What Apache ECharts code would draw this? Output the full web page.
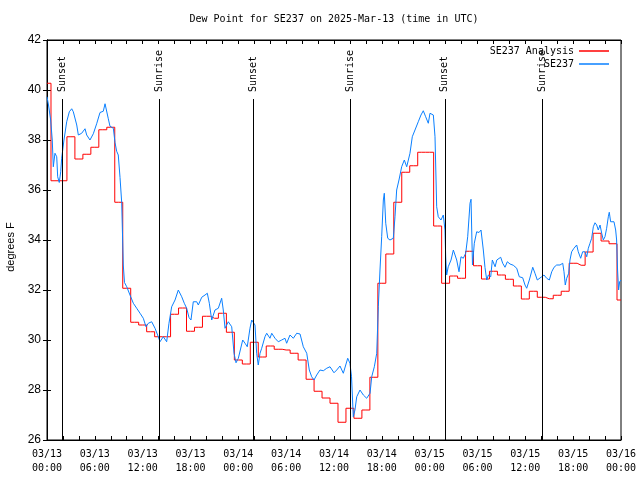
<!DOCTYPE html>
<html><head><meta charset="utf-8">
<script src="https://cdn.jsdelivr.net/npm/echarts@6/dist/echarts.min.js"></script>
<style>html,body{margin:0;padding:0;background:#fff}#c{width:640px;height:480px}</style>
</head><body><div id="c"></div>
<script>
const titleText = 'Dew Point for SE237 on 2025-Mar-13 (time in UTC)';
const yAxisTitle = 'degrees F';
const analysisName = 'SE237 Analysis';
const obsName = 'SE237';
// hourly analysis values, hour 0 .. 72 after 03/13 00:00 UTC
const analysisHourly = [40.27,36.37,36.37,38.13,37.24,37.43,37.71,38.41,38.51,35.51,32.07,30.71,30.6,30.33,30.13,30.13,31.03,31.28,30.35,30.51,30.95,30.87,31.07,30.31,29.2,29.04,29.91,29.32,29.76,29.63,29.6,29.47,29.2,28.43,27.95,27.68,27.47,26.71,27.27,26.87,27.2,28.51,32.27,33.44,35.51,36.71,36.97,37.51,37.51,34.56,32.27,32.56,32.47,33.55,32.97,32.44,32.75,32.6,32.43,32.16,31.64,31.95,31.71,31.65,31.79,31.95,33.07,32.99,33.52,34.27,33.96,33.85,31.6];
// observations: [hours after 03/13 00:00 UTC, degrees F]
const obsSeries = [[0,39.73],[0.19,39.4],[0.46,38.8],[0.66,38.0],[0.79,36.93],[1.0,37.47],[1.22,37.33],[1.34,36.53],[1.54,36.3],[1.72,36.73],[1.84,37.27],[2.13,38.0],[2.47,38.73],[2.8,39.13],[3.1,39.25],[3.3,39.13],[3.73,38.6],[3.93,38.2],[4.35,38.27],[4.55,38.2],[4.77,38.45],[4.98,38.2],[5.39,38.0],[5.81,38.25],[6.23,38.65],[6.65,39.1],[7.06,39.15],[7.28,39.45],[7.49,39.5],[7.69,38.85],[7.9,38.55],[8.32,38.47],[8.53,37.9],[8.74,37.55],[8.94,37.4],[9.16,36.5],[9.37,35.5],[9.57,33.0],[9.72,32.3],[10.0,32.13],[10.41,31.8],[10.83,31.47],[11.25,31.27],[11.67,31.07],[12.08,30.87],[12.42,30.53],[12.71,30.67],[13.13,30.73],[13.55,30.47],[13.96,30.13],[14.17,29.93],[14.59,30.13],[15.01,29.93],[15.3,30.67],[15.64,31.33],[16.06,31.6],[16.47,32.0],[16.9,31.73],[17.22,31.47],[17.52,31.27],[17.81,30.9],[18.06,30.8],[18.35,31.53],[18.78,31.53],[18.98,31.4],[19.41,31.71],[19.82,31.8],[20.11,31.87],[20.36,31.47],[20.66,30.8],[21.07,31.2],[21.49,31.27],[21.91,31.67],[22.11,31.2],[22.33,30.47],[22.74,30.73],[23.17,30.53],[23.46,29.47],[23.71,29.09],[24.0,29.27],[24.21,29.33],[24.55,30.0],[24.84,29.87],[25.12,29.73],[25.46,30.47],[25.68,30.8],[25.88,30.87],[26.09,30.6],[26.3,29.47],[26.5,29.0],[26.72,29.47],[26.93,29.67],[27.34,30.13],[27.56,30.27],[27.97,30.07],[28.19,30.27],[28.6,30.07],[29.01,29.93],[29.44,30.0],[29.85,30.07],[30.06,29.87],[30.48,30.2],[30.9,30.07],[31.32,30.27],[31.74,30.24],[32.15,29.73],[32.58,29.47],[32.9,28.8],[33.2,28.53],[33.49,28.4],[33.83,28.6],[34.24,28.8],[34.66,28.77],[35.09,28.87],[35.5,28.93],[35.71,29.0],[36.0,28.69],[36.34,28.8],[36.75,28.96],[37.17,28.67],[37.72,29.27],[38.0,29.07],[38.2,28.53],[38.42,26.93],[38.63,27.2],[38.85,27.73],[39.26,28.0],[39.68,27.8],[40.1,27.67],[40.52,27.87],[40.73,28.53],[41.06,28.93],[41.36,29.47],[41.56,31.33],[41.77,32.8],[41.98,34.13],[42.19,35.6],[42.31,35.87],[42.49,34.67],[42.74,34.07],[43.02,34.0],[43.44,34.07],[43.65,34.93],[43.86,36.0],[44.15,36.4],[44.49,36.93],[44.82,37.2],[45.12,36.93],[45.53,37.47],[45.82,38.13],[46.16,38.4],[46.57,38.73],[46.91,39.0],[47.2,39.17],[47.5,38.93],[47.83,38.67],[48.04,39.07],[48.25,39.13],[48.46,39.0],[48.67,38.13],[48.88,35.33],[49.08,34.93],[49.42,34.8],[49.71,35.0],[49.92,34.4],[50.01,33.33],[50.13,32.6],[50.33,32.93],[50.68,33.2],[50.97,33.6],[51.18,33.53],[51.39,33.2],[51.68,32.73],[51.93,33.33],[52.22,33.27],[52.52,33.47],[52.77,34.13],[53.06,35.47],[53.19,35.63],[53.37,33.0],[53.6,33.87],[53.9,34.33],[54.19,34.3],[54.44,34.4],[54.73,33.6],[54.94,32.9],[55.16,32.4],[55.36,32.6],[55.66,32.53],[55.86,33.2],[56.21,32.93],[56.42,33.2],[56.62,33.27],[56.91,33.31],[57.16,33.07],[57.45,32.91],[57.74,33.13],[58.08,33.04],[58.49,32.99],[58.92,32.87],[59.24,32.53],[59.67,32.49],[59.96,32.2],[60.17,32.07],[60.5,32.4],[60.67,32.6],[60.93,32.91],[61.21,32.67],[61.5,32.4],[61.75,32.47],[62.05,32.53],[62.34,32.6],[62.68,32.47],[63.01,32.4],[63.31,32.73],[63.6,32.91],[63.93,33.0],[64.35,33.0],[64.69,33.07],[64.85,32.73],[65.01,32.2],[65.19,32.47],[65.44,32.67],[65.6,33.2],[65.81,33.53],[66.1,33.67],[66.44,33.8],[66.64,33.53],[66.94,33.27],[67.19,33.53],[67.48,33.53],[67.7,33.33],[67.9,33.67],[68.11,33.87],[68.32,34.07],[68.53,34.53],[68.74,34.69],[68.95,34.6],[69.15,34.4],[69.37,34.6],[69.58,34.27],[69.78,34.0],[69.99,34.13],[70.2,34.47],[70.41,34.93],[70.53,35.11],[70.7,34.73],[70.95,34.69],[71.12,34.73],[71.33,34.4],[71.45,34.0],[71.57,32.8],[71.7,32.0],[71.83,32.33],[72.0,32.4]];
// sun events: [label, hours after 03/13 00:00 UTC]
const sunEvents = [['Sunset',1.9],['Sunrise',14.05],['Sunset',25.85],['Sunrise',38.1],['Sunset',49.9],['Sunrise',62.1]];
const xDays = ['03/13','03/14','03/15','03/16'];
const yMin = 26, yMax = 42, yStep = 2;
const xMin = 0, xMax = 72, xLabelStep = 6, xTickStep = 2;
const sunLineTop = 39.64, sunLabelBase = 39.92;

const MONO = 'DejaVu Sans Mono';
const SANS = 'Liberation Sans';
function xLabel(v){
  if (v % xLabelStep !== 0) return '';
  const d = xDays[Math.floor(v/24)];
  const h = String(v % 24).padStart(2,'0');
  return d + '\n' + h + ':00';
}
const chart = echarts.init(document.getElementById('c'), null, {renderer:'canvas'});
const axisCommon = {
  type:'value', min:xMin, max:xMax, interval:xTickStep,
  axisLine:{show:true, lineStyle:{color:'#000', width:1}},
  axisTick:{show:true, inside:true, length:4, lineStyle:{color:'#000'}},
  splitLine:{show:false}
};
const legendCommon = {right:31, padding:0, align:'right', icon:'rect', itemWidth:30, itemHeight:1.5,
  textStyle:{fontFamily:MONO, fontSize:10, color:'#000'}};
chart.setOption({
  animation:false,
  backgroundColor:'#fff',
  title:{text:titleText, left:334, top:14, textAlign:'center', padding:0,
    textStyle:{fontFamily:MONO, fontSize:10, fontWeight:'normal', color:'#000'}},
  grid:{left:47, top:40, width:574, height:400, show:true, borderColor:'#000', borderWidth:1, backgroundColor:'transparent'},
  legend:[
    Object.assign({}, legendCommon, {data:[analysisName], top:46}),
    Object.assign({}, legendCommon, {data:[obsName], top:59})
  ],
  xAxis:[
    Object.assign({}, axisCommon, {position:'bottom',
      axisLabel:{formatter:xLabel, fontFamily:MONO, fontSize:10, color:'#000', lineHeight:14, margin:7, showMinLabel:true, showMaxLabel:true}}),
    Object.assign({}, axisCommon, {position:'top', axisLabel:{show:false}})
  ],
  yAxis:[
    {type:'value', min:yMin, max:yMax, interval:yStep, position:'left',
     axisLine:{show:true, lineStyle:{color:'#000'}},
     axisTick:{show:true, inside:true, length:4, lineStyle:{color:'#000'}},
     axisLabel:{fontFamily:SANS, fontSize:12, color:'#000', margin:6},
     splitLine:{show:false}},
    {type:'value', min:yMin, max:yMax, interval:yStep, position:'right',
     axisLine:{show:true, lineStyle:{color:'#000'}},
     axisTick:{show:true, inside:true, length:4, lineStyle:{color:'#000'}},
     axisLabel:{show:false}, splitLine:{show:false}}
  ],
  graphic:[{type:'text', x:11, y:247, rotation:Math.PI/2,
    style:{text:yAxisTitle, fontFamily:SANS, fontSize:11, fill:'#000', textAlign:'center', textVerticalAlign:'middle'}}],
  series:[
    {name:analysisName, type:'line', step:'middle', symbol:'none', xAxisIndex:0, yAxisIndex:0,
     lineStyle:{color:'#ff0000', width:1}, itemStyle:{color:'#ff0000'},
     data:analysisHourly.map((v,i)=>[i,v]),
     markLine:{silent:true, symbol:['none','none'], label:{show:false},
       lineStyle:{color:'#000', width:1, type:'solid'},
       data:sunEvents.map(e=>[{coord:[e[1], yMin]},{coord:[e[1], sunLineTop]}])},
     markPoint:{silent:true, symbol:'circle', symbolSize:0,
       label:{show:true, formatter:'{b}', rotate:90, align:'left', verticalAlign:'middle', position:'inside',
         fontFamily:MONO, fontSize:10, color:'#000'},
       data:sunEvents.map(e=>({name:e[0], coord:[e[1], sunLabelBase]}))}
    },
    {name:obsName, type:'line', symbol:'none', xAxisIndex:0, yAxisIndex:0,
     lineStyle:{color:'#0a80ff', width:1}, itemStyle:{color:'#0a80ff'},
     data:obsSeries}
  ]
});
</script></body></html>
